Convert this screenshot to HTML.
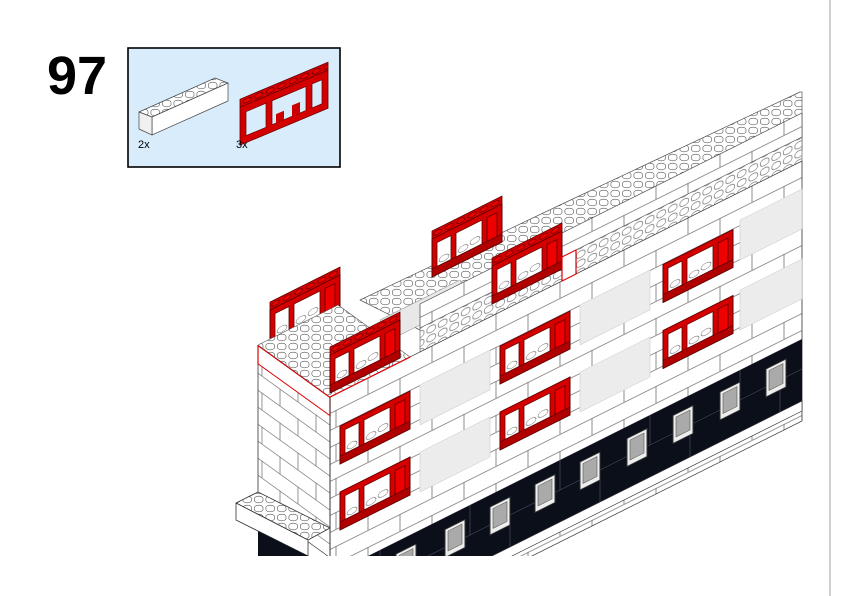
<!DOCTYPE html>
<html><head><meta charset="utf-8"><style>
html,body{margin:0;padding:0;background:#fff;overflow:hidden;width:842px;height:596px}
svg{display:block}
</style></head><body>
<svg width="842" height="596" viewBox="0 0 842 596" xmlns="http://www.w3.org/2000/svg" font-family="Liberation Sans, sans-serif">
<defs>
  <pattern id="studs" width="11.5" height="9" patternUnits="userSpaceOnUse">
    <rect width="11.5" height="9" fill="#fff"/>
    <ellipse cx="5.7" cy="5.5" rx="4.3" ry="2.3" fill="#fff" stroke="#555" stroke-width="0.6"/>
    <path d="M1.4 5.5 v-2 a4.3 2.3 0 0 1 8.6 0 v2" fill="#fff" stroke="#555" stroke-width="0.6"/>
  </pattern>
  <pattern id="bricks" width="64" height="34" patternUnits="userSpaceOnUse">
    <rect width="64" height="34" fill="#fff"/>
    <path d="M0 0.5H64M0 17.5H64M16 0V17M48 17V34" stroke="#666" stroke-width="0.7" fill="none"/>
  </pattern>
  <pattern id="lbricks" width="36" height="34" patternUnits="userSpaceOnUse">
    <rect width="36" height="34" fill="#fff"/>
    <path d="M0 0.5H36M0 17.5H36M10 0V17M28 17V34" stroke="#666" stroke-width="0.7" fill="none"/>
  </pattern>
  <pattern id="rstud" width="11.5" height="8" patternUnits="userSpaceOnUse">
    <rect width="11.5" height="8" fill="#d40000"/>
    <ellipse cx="5.7" cy="4" rx="4" ry="2.2" fill="#e00" stroke="#500" stroke-width="0.7"/>
  </pattern>
  <g id="win">
    <rect x="0" y="0" width="70" height="38" fill="#d40000" stroke="#5a0000" stroke-width="1"/>
    <rect x="5" y="6" width="14" height="24" fill="#fff" stroke="#5a0000" stroke-width="0.8"/>
    <rect x="24" y="6" width="26" height="24" fill="#fff" stroke="#5a0000" stroke-width="0.8"/>
    <rect x="55" y="6" width="10" height="24" fill="#e00" stroke="#5a0000" stroke-width="0.8"/>
    <ellipse cx="12" cy="25" rx="5" ry="3" fill="#fff" stroke="#777" stroke-width="0.6"/>
    <ellipse cx="31" cy="25" rx="5" ry="3" fill="#fff" stroke="#777" stroke-width="0.6"/>
    <ellipse cx="43" cy="23" rx="5" ry="3" fill="#fff" stroke="#777" stroke-width="0.6"/>
    <rect x="0" y="30" width="70" height="8" fill="#b00000" stroke="#5a0000" stroke-width="0.8"/>
  </g>
  <g id="twin">
    <use href="#win"/>
    <rect x="0" y="-8" width="70" height="8" fill="url(#rstud)" stroke="#5a0000" stroke-width="0.8"/>
  </g>
  <g id="gwin">
    <rect x="0" y="0" width="20" height="28" fill="#eee" stroke="#333" stroke-width="1"/>
    <rect x="3" y="3" width="14" height="20" fill="#aaa" stroke="#555" stroke-width="0.6"/>
  </g>
  <clipPath id="cl"><rect x="0" y="0" width="803" height="556"/></clipPath>
</defs>

<rect width="842" height="596" fill="#fff"/>
<line x1="830" y1="0" x2="830" y2="596" stroke="#d0d0d0" stroke-width="2"/>

<text x="47" y="94" font-size="54" font-weight="bold" fill="#000">97</text>

<rect x="128" y="48" width="212" height="119" fill="#d8ecfb" stroke="#000" stroke-width="1.6"/>
<polygon points="139,112 215,78 228,83 152,117" fill="url(#studs)" stroke="#444" stroke-width="0.7"/>
<polygon points="152,117 228,83 228,101 152,135" fill="#fff" stroke="#444" stroke-width="0.7"/>
<polygon points="139,112 152,117 152,135 139,129" fill="#f0f0f0" stroke="#444" stroke-width="0.7"/>
<g transform="matrix(1,-0.42,0,1,0,0)">
  <rect x="240" y="200" width="88" height="8" fill="url(#rstud)" stroke="#600" stroke-width="0.8"/>
  <rect x="240" y="208" width="88" height="38" fill="#d40000" stroke="#600" stroke-width="0.8"/>
  <rect x="246" y="215" width="20" height="24" fill="#d8ecfb" stroke="#600" stroke-width="0.7"/>
  <rect x="272" y="215" width="34" height="24" fill="#d8ecfb" stroke="#600" stroke-width="0.7"/>
  <rect x="312" y="215" width="10" height="24" fill="#d8ecfb" stroke="#600" stroke-width="0.7"/>
  <rect x="276" y="230" width="8" height="9" fill="#c00"/><rect x="292" y="228" width="8" height="11" fill="#c00"/>
</g>
<text x="138" y="148" font-size="11" fill="#000">2x</text>
<text x="236" y="148" font-size="11" fill="#000">3x</text>

<g clip-path="url(#cl)" stroke-linejoin="round">
  <!-- roof top areas (back) -->
  <polygon points="360,300 560,205 800,92 802,92 802,150 420,330" fill="url(#studs)" stroke="#555" stroke-width="0.7"/>
  <polygon points="380,320 460,280 470,300 390,340" fill="#e8e8e8" stroke="#999" stroke-width="0.6"/>
  <g transform="matrix(1,-0.5,0,1,0,0)">
    <rect x="420" y="514" width="382" height="24" fill="url(#bricks)" stroke="#444" stroke-width="0.7"/>
    <rect x="420" y="538" width="382" height="24" fill="url(#studs)" stroke="#555" stroke-width="0.6"/>
    <rect x="330" y="562" width="472" height="260" fill="url(#bricks)" stroke="#333" stroke-width="0.8"/>
    <rect x="420" y="595" width="70" height="40" fill="#ececec" stroke="#ccc" stroke-width="0.6"/>
    <rect x="420" y="662" width="70" height="40" fill="#ececec" stroke="#ccc" stroke-width="0.6"/>
    <rect x="580" y="595" width="70" height="40" fill="#ececec" stroke="#ccc" stroke-width="0.6"/>
    <rect x="580" y="662" width="70" height="40" fill="#ececec" stroke="#ccc" stroke-width="0.6"/>
    <rect x="740" y="590" width="62" height="40" fill="#ececec" stroke="#ccc" stroke-width="0.6"/>
    <rect x="740" y="660" width="62" height="40" fill="#ececec" stroke="#ccc" stroke-width="0.6"/>
    <rect x="330" y="740" width="472" height="62" fill="#0a0f1a"/>
    <path d="M330 770H802M380 740V770M470 740V770M560 740V770M650 740V770M740 740V770M420 770V802M510 770V802M600 770V802M690 770V802M780 770V802" stroke="#556" stroke-width="0.6"/>
    <rect x="330" y="802" width="472" height="10" fill="#fff" stroke="#333" stroke-width="0.7"/>
    <use href="#gwin" x="396" y="752"/>
    <use href="#gwin" x="445" y="752"/>
    <use href="#gwin" x="490" y="752"/>
    <use href="#gwin" x="535" y="752"/>
    <use href="#gwin" x="580" y="752"/>
    <use href="#gwin" x="627" y="752"/>
    <use href="#gwin" x="673" y="752"/>
    <use href="#gwin" x="720" y="752"/>
    <use href="#gwin" x="766" y="752"/>
    <use href="#win" x="340" y="596"/>
    <use href="#win" x="340" y="662"/>
    <use href="#win" x="500" y="596"/>
    <use href="#win" x="500" y="662"/>
    <use href="#win" x="663" y="596"/>
    <use href="#win" x="663" y="662"/>
    <use href="#twin" x="270" y="445"/>
    <use href="#twin" x="432" y="455"/>
  </g>
  <!-- corner block top (studs) -->
  <polygon points="258,345 330,397 410,357 338,305" fill="url(#studs)" stroke="#555" stroke-width="0.6"/>
  <!-- left face -->
  <g transform="matrix(1,0.72,0,1,0,0)">
    <rect x="258" y="160" width="72" height="160" fill="url(#lbricks)" stroke="#333" stroke-width="0.8"/>
    <rect x="258" y="160" width="72" height="18" fill="#fff" stroke="#d00" stroke-width="1.2"/>
  </g>
  <g transform="matrix(1,-0.5,0,1,0,0)">
    <rect x="330" y="562" width="80" height="0.1" stroke="#d00" stroke-width="1.2"/>
    <use href="#twin" x="330" y="520"/>
    <use href="#twin" x="492" y="512"/>
    <rect x="562" y="538" width="14" height="24" fill="#fff" stroke="#d00" stroke-width="1.2"/>
  </g>
  <!-- base slab left -->
  <polygon points="236,503 258,492 330,528 308,540" fill="url(#studs)" stroke="#333" stroke-width="0.8"/>
  <polygon points="236,503 308,540 308,556 236,520" fill="#fff" stroke="#333" stroke-width="0.8"/>
  <polygon points="258,531 308,556 258,556" fill="#0a0f1a"/>
  <line x1="330" y1="397" x2="330" y2="560" stroke="#333" stroke-width="0.9"/>
</g>
</svg>
</body></html>
